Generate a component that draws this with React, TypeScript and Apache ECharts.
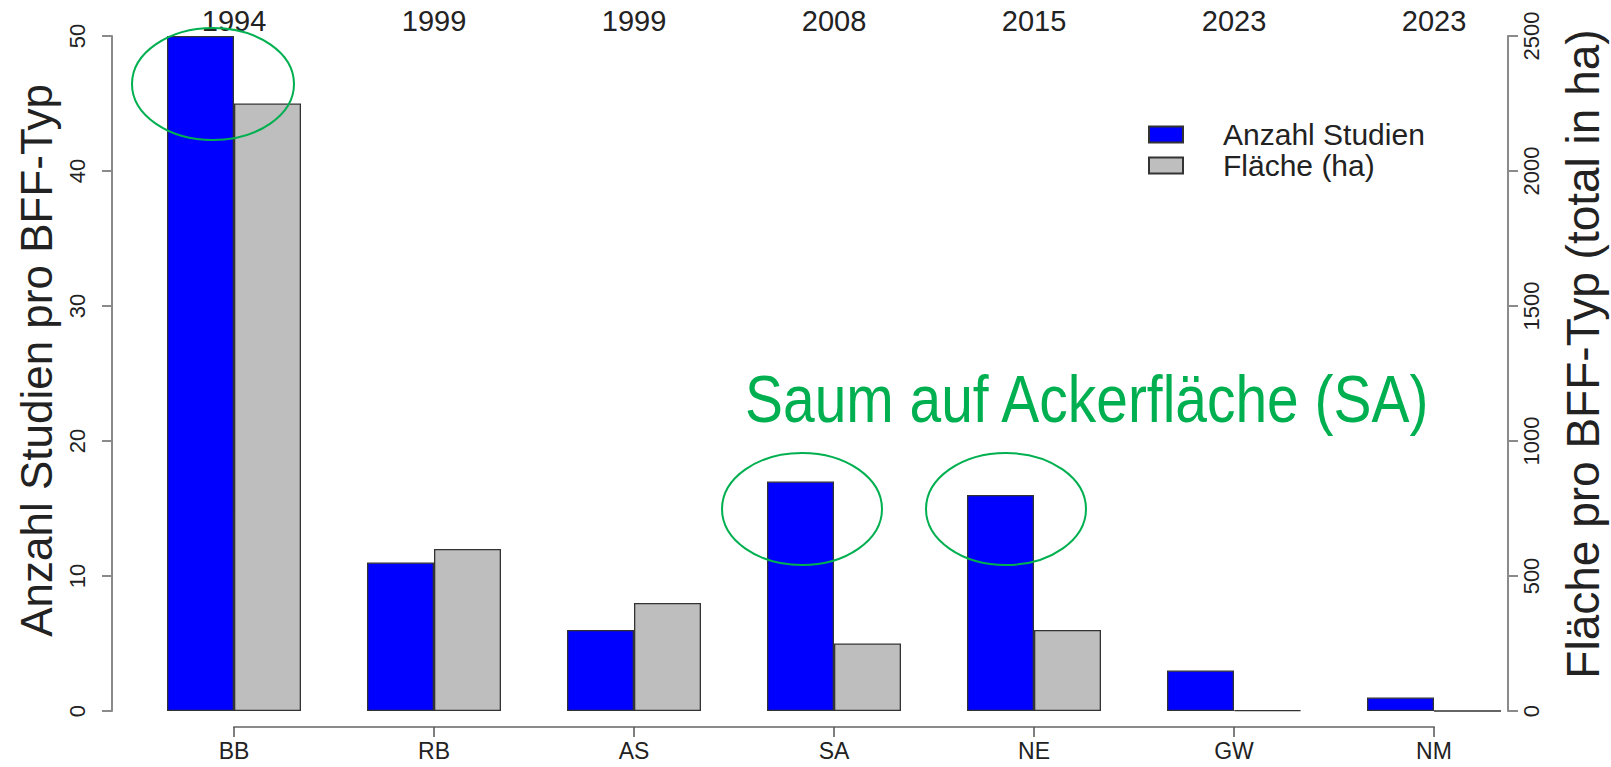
import React, { useEffect, useRef } from "react";
import * as echarts from "echarts";

const categories = ["BB", "RB", "AS", "SA", "NE", "GW", "NM"];
const years = ["1994", "1999", "1999", "2008", "2015", "2023", "2023"];
const studies = [50, 11, 6, 17, 16, 3, 1];
const areaHa = [2250, 600, 400, 250, 300, 3, 0];
const seriesNames = ["Anzahl Studien", "Fläche (ha)"];
const leftTitle = "Anzahl Studien pro BFF-Typ";
const rightTitle = "Fläche pro BFF-Typ (total in ha)";
const annotation = "Saum auf Ackerfläche (SA)";

const FONT = "'Liberation Sans', Arial, Helvetica, sans-serif";
const AXIS_COLOR = "#8a8a8a";
const TEXT_COLOR = "#222";
const GREEN = "#00B050";

export default function App() {
  const ref = useRef<HTMLDivElement>(null);
  useEffect(() => {
    if (!ref.current) return;
    const chart = echarts.init(ref.current, null, { renderer: "svg" });
    const option: any = {
      animation: false,
      backgroundColor: "#fff",
      textStyle: { fontFamily: FONT },
      grid: [
        { left: 134, right: 77, top: 36, bottom: 56, containLabel: false, outerBoundsMode: "none" },
        { left: 234, right: 177, bottom: 40, height: 1, containLabel: false, outerBoundsMode: "none" },
      ],
      legend: {
        orient: "vertical",
        left: 1143,
        top: 114,
        itemWidth: 34,
        itemHeight: 16,
        itemGap: 0,
        icon: "rect",
        data: seriesNames,
        textStyle: {
          fontFamily: FONT,
          fontSize: 30,
          lineHeight: 31,
          color: TEXT_COLOR,
          padding: [0, 0, 0, 35],
        },
      },
      xAxis: [
        {
          type: "category",
          gridIndex: 0,
          data: categories,
          show: false,
        },
        {
          type: "category",
          gridIndex: 0,
          position: "top",
          data: categories,
          axisLine: { show: false },
          axisTick: { show: false },
          axisLabel: {
            margin: 1,
            fontSize: 29,
            color: TEXT_COLOR,
            fontFamily: FONT,
            formatter: (_v: string, i: number) => years[i],
          },
        },
        {
          type: "category",
          gridIndex: 1,
          data: categories,
          boundaryGap: false,
          axisLine: { show: true, lineStyle: { color: AXIS_COLOR, width: 2 } },
          axisTick: { show: true, length: 10, lineStyle: { color: "#555", width: 1.5 } },
          axisLabel: {
            margin: 12,
            fontSize: 23,
            color: TEXT_COLOR,
            fontFamily: FONT,
            interval: 0,
          },
        },
      ],
      yAxis: [
        {
          type: "value",
          gridIndex: 0,
          position: "left",
          offset: 22,
          min: 0,
          max: 50,
          interval: 10,
          splitLine: { show: false },
          axisLine: { show: true, lineStyle: { color: AXIS_COLOR, width: 2 } },
          axisTick: { show: true, length: 10, lineStyle: { color: AXIS_COLOR, width: 2 } },
          axisLabel: {
            rotate: 90,
            margin: 24,
            fontSize: 22,
            color: TEXT_COLOR,
            fontFamily: FONT,
          },
          name: leftTitle,
          nameLocation: "middle",
          nameRotate: 90,
          nameGap: 54,
          nameTextStyle: {
            fontSize: 44,
            color: TEXT_COLOR,
            fontFamily: FONT,
            padding: [0, 0, 0, 26],
          },
        },
        {
          type: "value",
          gridIndex: 0,
          position: "right",
          offset: -26,
          min: 0,
          max: 2500,
          interval: 500,
          splitLine: { show: false },
          axisLine: { show: true, lineStyle: { color: AXIS_COLOR, width: 2 } },
          axisTick: { show: true, length: 10, lineStyle: { color: AXIS_COLOR, width: 2 } },
          axisLabel: {
            rotate: 90,
            margin: 12,
            fontSize: 22,
            color: TEXT_COLOR,
            fontFamily: FONT,
            formatter: (v: number) => String(v),
          },
          name: rightTitle,
          nameLocation: "middle",
          nameRotate: 90,
          nameGap: 52,
          nameTextStyle: {
            fontSize: 46,
            color: TEXT_COLOR,
            fontFamily: FONT,
            padding: [0, 0, 0, 39],
          },
        },
        {
          type: "value",
          gridIndex: 1,
          show: false,
        },
      ],
      series: [
        {
          name: seriesNames[0],
          type: "bar",
          xAxisIndex: 0,
          yAxisIndex: 0,
          data: studies,
          barGap: "0%",
          barCategoryGap: "33%",
          itemStyle: { color: "#0000FF", borderColor: "#333", borderWidth: 1.3 },
        },
        {
          name: seriesNames[1],
          type: "bar",
          xAxisIndex: 0,
          yAxisIndex: 1,
          data: areaHa,
          barGap: "0%",
          barCategoryGap: "33%",
          itemStyle: { color: "#BEBEBE", borderColor: "#333", borderWidth: 1.3 },
        },
      ],
      graphic: [
        {
          type: "ellipse",
          shape: { cx: 213, cy: 84, rx: 81, ry: 56 },
          style: { fill: "none", stroke: GREEN, lineWidth: 2 },
          z: 100,
        },
        {
          type: "ellipse",
          shape: { cx: 802, cy: 509, rx: 80, ry: 56 },
          style: { fill: "none", stroke: GREEN, lineWidth: 2 },
          z: 100,
        },
        {
          type: "ellipse",
          shape: { cx: 1006, cy: 509, rx: 80, ry: 56 },
          style: { fill: "none", stroke: GREEN, lineWidth: 2 },
          z: 100,
        },
        {
          type: "text",
          x: 745,
          y: 432,
          scaleX: 0.85,
          style: {
            text: annotation,
            fill: GREEN,
            fontSize: 67,
            fontFamily: FONT,
            textAlign: "left",
            textVerticalAlign: "bottom",
          },
          z: 100,
        },
      ],
    };
    chart.setOption(option);
    return () => chart.dispose();
  }, []);
  return (
    <div
      ref={ref}
      style={{ position: "absolute", left: 0, top: 0, width: 1611, height: 767, background: "#fff" }}
    />
  );
}
